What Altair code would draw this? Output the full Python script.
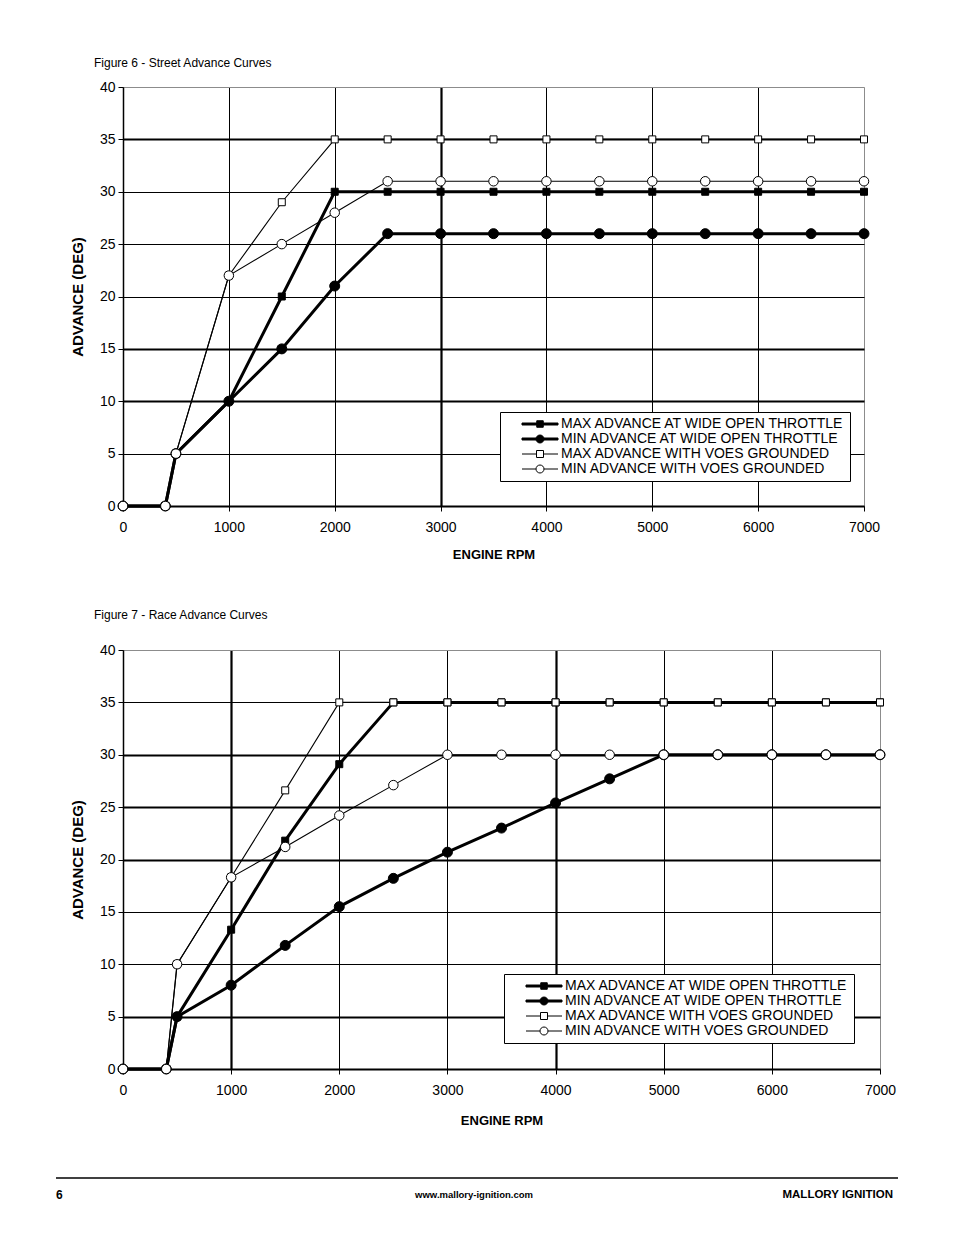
import altair as alt
import pandas as pd

# ---------------- data ----------------
RPM = [0, 400, 500, 1000, 1500, 2000, 2500, 3000, 3500, 4000, 4500, 5000, 5500, 6000, 6500, 7000]
SERIES = [
    "MAX ADVANCE AT WIDE OPEN THROTTLE",
    "MIN ADVANCE AT WIDE OPEN THROTTLE",
    "MAX ADVANCE WITH VOES GROUNDED",
    "MIN ADVANCE WITH VOES GROUNDED",
]

STREET_MAX_WOT = [0, 0, 5, 10, 20, 30, 30, 30, 30, 30, 30, 30, 30, 30, 30, 30]
STREET_MIN_WOT = [0, 0, 5, 10, 15, 21, 26, 26, 26, 26, 26, 26, 26, 26, 26, 26]
STREET_MAX_VOES = [0, 0, 5, 22, 29, 35, 35, 35, 35, 35, 35, 35, 35, 35, 35, 35]
STREET_MIN_VOES = [0, 0, 5, 22, 25, 28, 31, 31, 31, 31, 31, 31, 31, 31, 31, 31]

RACE_MAX_WOT = [0, 0, 5, 13.3, 21.8, 29.1, 35, 35, 35, 35, 35, 35, 35, 35, 35, 35]
RACE_MIN_WOT = [0, 0, 5, 8, 11.8, 15.5, 18.2, 20.7, 23, 25.4, 27.7, 30, 30, 30, 30, 30]
RACE_MAX_VOES = [0, 0, 10, 18.3, 26.6, 35, 35, 35, 35, 35, 35, 35, 35, 35, 35, 35]
RACE_MIN_VOES = [0, 0, 10, 18.3, 21.2, 24.2, 27.1, 30, 30, 30, 30, 30, 30, 30, 30, 30]

TITLE_STREET = "Figure 6 - Street Advance Curves"
TITLE_RACE = "Figure 7 - Race Advance Curves"
X_TITLE = "ENGINE RPM"
Y_TITLE = "ADVANCE (DEG)"
X_TICKS = [0, 1000, 2000, 3000, 4000, 5000, 6000, 7000]
Y_TICKS = [0, 5, 10, 15, 20, 25, 30, 35, 40]
FOOTER_PAGE = ["6"]
FOOTER_URL = ["www.mallory-ignition.com"]
FOOTER_BRAND = ["MALLORY IGNITION"]

# ---------------- style ----------------
FONT = "Liberation Sans"
LINE_W = [3, 3, 1.1, 1.1]
FILLS = ["black", "black", "white", "white"]
SHAPES = ["square", "circle", "square", "circle"]
SIZES = [49, 100, 49, 90]
LEGEND_PATHS = [
    "M-1,0M-0.34,-0.04H1.1V0.04H-0.34ZM0.25,-0.13H0.51V0.13H0.25Z",
    "M-1,0M-0.34,-0.04H1.1V0.04H-0.34ZM0.22,0A0.16,0.16,0,1,1,0.54,0A0.16,0.16,0,1,1,0.22,0Z",
    "M-1,0M-0.34,0H0.24M0.52,0H1.1M0.24,-0.14H0.52V0.14H0.24Z",
    "M-1,0M-0.34,0H0.22M0.54,0H1.1M0.22,0A0.16,0.16,0,1,1,0.54,0A0.16,0.16,0,1,1,0.22,0Z",
]


def in_list(vals):
    return "indexof([" + ",".join(str(v) for v in vals) + "], datum.value) >= 0"


def panel(vals, title, width, title_offset, x_thick, y_thick, legend_xy, x_title_pad, footer=False):
    rows = []
    for i, (s, vs) in enumerate(zip(SERIES, vals)):
        for r, v in zip(RPM, vs):
            rows.append({"rpm": r, "adv": v, "series": s, "lw": LINE_W[i], "sz": SIZES[i]})
    df = pd.DataFrame(rows)

    x = alt.X(
        "rpm:Q",
        scale=alt.Scale(domain=[0, 7000], nice=False),
        axis=alt.Axis(
            values=X_TICKS, title=X_TITLE, format="d", labelFlush=False,
            labelFont=FONT, labelFontSize=14, labelColor="black", labelPadding=9,
            tickSize=5, tickColor="black", tickWidth=1,
            domainColor="black", domainWidth=2,
            grid=True,
            gridColor={"condition": {"test": "datum.value == 7000", "value": "#8c8c8c"}, "value": "black"},
            gridWidth={"condition": {"test": in_list(x_thick), "value": 2.2}, "value": 1},
            gridOpacity=1,
            titleFont=FONT, titleFontSize=13, titleFontWeight="bold", titleColor="black",
            titlePadding=x_title_pad,
        ),
    )
    y = alt.Y(
        "adv:Q",
        scale=alt.Scale(domain=[0, 40], nice=False),
        axis=alt.Axis(
            values=Y_TICKS, title=Y_TITLE, labelFlush=False,
            labelFont=FONT, labelFontSize=14, labelColor="black", labelPadding=3,
            tickSize=5, tickColor="black", tickWidth=1,
            domainColor="black", domainWidth=1.5,
            grid=True,
            gridColor={"condition": {"test": "datum.value == 40", "value": "#8c8c8c"}, "value": "black"},
            gridWidth={"condition": {"test": in_list(y_thick), "value": 2.2}, "value": 1},
            gridOpacity=1,
            titleFont=FONT, titleFontSize=15, titleFontWeight="bold", titleColor="black",
            titlePadding=14,
        ),
    )

    lines = alt.Chart(df).mark_line(color="black").encode(
        x=x, y=y, detail="series:N",
        strokeWidth=alt.StrokeWidth("lw:Q", scale=None),
    )
    pts = alt.Chart(df).mark_point(filled=True, stroke="black", strokeWidth=1, opacity=1).encode(
        x=x, y=y,
        shape=alt.Shape("series:N", scale=alt.Scale(domain=SERIES, range=SHAPES), legend=None),
        fill=alt.Fill("series:N", scale=alt.Scale(domain=SERIES, range=FILLS), legend=None),
        size=alt.Size("sz:Q", scale=None),
    )

    leg = alt.Legend(
        title=None, orient="none", legendX=legend_xy[0], legendY=legend_xy[1],
        direction="vertical", symbolSize=2500, symbolStrokeColor="black", symbolStrokeWidth=1,
        clipHeight=14,
        labelFont=FONT, labelFontSize=14, labelColor="black", labelLimit=500, labelOffset=5,
        padding=5, rowPadding=1, strokeColor="black", fillColor="white",
        labelExpr="datum.label + '   '",
    )
    legend_layer = alt.Chart(pd.DataFrame({"series": SERIES})).transform_filter("false").mark_point(
        filled=True, strokeWidth=1, opacity=1
    ).encode(
        shape=alt.Shape("series:N", scale=alt.Scale(domain=SERIES, range=LEGEND_PATHS), legend=leg),
        fill=alt.Fill("series:N", scale=alt.Scale(domain=SERIES, range=FILLS), legend=leg),
        stroke=alt.Stroke("series:N", scale=alt.Scale(domain=SERIES, range=["black"] * 4), legend=leg),
    )

    layers = [lines, pts, legend_layer]
    if footer:
        fdf = pd.DataFrame({"page": FOOTER_PAGE, "url": FOOTER_URL, "brand": FOOTER_BRAND})
        base = alt.Chart(fdf)
        layers += [
            base.mark_rule(color="black", strokeWidth=1.5).encode(
                x=alt.value(-67), x2=alt.value(775), y=alt.value(528)),
            base.mark_text(align="left", baseline="middle", font=FONT, fontSize=12, fontWeight="bold",
                           color="black").encode(text="page:N", x=alt.value(-67), y=alt.value(545)),
            base.mark_text(align="center", baseline="middle", font=FONT, fontSize=9.5, fontWeight="bold",
                           color="black").encode(text="url:N", x=alt.value(351), y=alt.value(545)),
            base.mark_text(align="right", baseline="middle", font=FONT, fontSize=11.5, fontWeight="bold",
                           color="black").encode(text="brand:N", x=alt.value(770), y=alt.value(545)),
        ]

    return alt.layer(*layers).resolve_scale(
        shape="independent", fill="independent", stroke="independent"
    ).properties(
        width=width, height=419,
        title=alt.TitleParams(title, anchor="start", frame="group", dx=-29, offset=title_offset,
                              font=FONT, fontSize=12, fontWeight="normal", color="black"),
    )


top = panel([STREET_MAX_WOT, STREET_MIN_WOT, STREET_MAX_VOES, STREET_MIN_VOES], TITLE_STREET,
            741, 10, [3000], [35, 15, 10], (377, 325), 14)
bottom = panel([RACE_MAX_WOT, RACE_MIN_WOT, RACE_MAX_VOES, RACE_MIN_VOES], TITLE_RACE,
               757, 21, [1000, 4000], [30, 25, 20, 5], (381, 324), 17, footer=True)

chart = alt.vconcat(top, bottom, spacing=144, bounds="flush").properties(
    padding={"left": 46, "top": 48, "right": 5, "bottom": 5}
).configure_view(stroke="#8c8c8c", strokeWidth=1.5).configure(font=FONT, background="white")

chart.save("out.html", embed_options={"renderer": "svg", "actions": False})
